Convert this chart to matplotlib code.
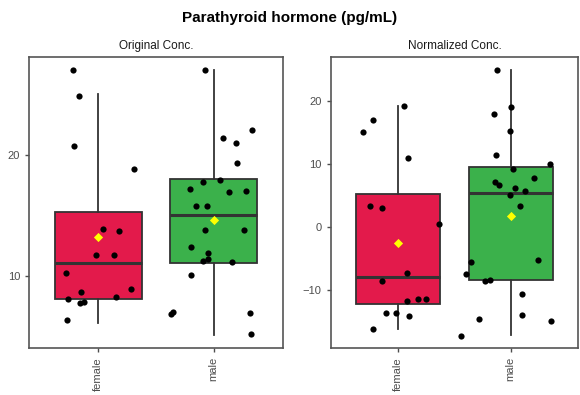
import matplotlib
matplotlib.use("Agg")
import matplotlib.pyplot as plt

plt.rcParams['font.family'] = ['Liberation Sans', 'DejaVu Sans']

groups = ["female", "male"]
fill_colors = ["#E31A4B", "#3BB14B"]

# Original concentration: box stats (whisker low, q1, median, q3, whisker high), mean, jittered points
orig_stats = {
    "female": [6.05, 8.04, 11.02, 15.25, 25.03],
    "male": [5.09, 11.05, 15.05, 18.0, 27.0],
}
orig_mean = {"female": 13.15, "male": 14.6}
orig_female_x = [0.78, 0.83, 0.79, 1.31, 1.04, 1.18, 0.98, 1.14, 0.72, 0.85, 1.28, 1.15,
                 0.74, 0.84, 0.88, 0.73]
orig_female_y = [26.98, 24.86, 20.69, 18.78, 13.84, 13.68, 11.66, 11.71, 10.22, 8.62, 8.90, 8.24,
                 8.04, 7.74, 7.82, 6.33]
orig_male_x = [1.92, 2.33, 2.08, 2.19, 2.20, 2.05, 1.91, 1.79, 2.13, 2.28,
               1.85, 1.94, 1.92, 2.26, 1.80, 1.95, 1.95, 1.91, 2.16, 1.80,
               1.63, 1.65, 2.31, 2.32]
orig_male_y = [27.04, 22.05, 21.35, 20.97, 19.31, 17.93, 17.71, 17.13, 16.91, 17.02,
               15.72, 15.72, 13.73, 13.79, 12.38, 11.88, 11.38, 11.24, 11.08, 10.03,
               6.83, 6.99, 6.88, 5.14]

# Normalized concentration
norm_stats = {
    "female": [-16.2, -12.32, -8.08, 5.14, 19.2],
    "male": [-17.3, -8.45, 5.30, 9.44, 24.9],
}
norm_mean = {"female": -2.56, "male": 1.74}
norm_female_x = [0.69, 0.78, 1.05, 1.09, 0.75, 0.86, 1.36, 1.08, 0.86, 1.08, 1.18, 1.25,
                 0.89, 0.98, 1.10, 0.78]
norm_female_y = [15.01, 16.92, 19.25, 10.87, 3.23, 3.01, 0.46, -7.44, -8.71, -11.85, -11.53, -11.53,
                 -13.81, -13.81, -14.28, -16.2]
norm_male_x = [1.88, 1.85, 2.00, 1.99, 1.87, 2.35, 2.02, 2.21, 1.86, 1.90, 2.04, 2.13, 1.99,
               2.08, 1.65, 2.24, 1.60, 1.77, 1.82, 2.10, 1.72, 2.10, 2.36, 1.56]
norm_male_y = [24.94, 17.93, 19.04, 15.22, 11.45, 9.92, 9.22, 7.69, 7.05, 6.58, 6.10, 5.72, 5.08,
               3.33, -5.58, -5.27, -7.6, -8.66, -8.45, -10.78, -14.76, -14.03, -15.08, -17.37]


def draw_panel(ax, stats, means, pts, title, ylim, yticks):
    bxp_stats = []
    for g in groups:
        lo, q1, med, q3, hi = stats[g]
        bxp_stats.append(dict(whislo=lo, q1=q1, med=med, q3=q3, whishi=hi, fliers=[], label=g))
    bp = ax.bxp(bxp_stats, positions=[1, 2], widths=0.75, patch_artist=True,
                showcaps=False, showfliers=False,
                boxprops=dict(edgecolor="#333333", linewidth=1.3),
                medianprops=dict(color="#333333", linewidth=2.2),
                whiskerprops=dict(color="#333333", linewidth=1.3), zorder=2)
    for patch, c in zip(bp["boxes"], fill_colors):
        patch.set_facecolor(c)

    for xs, ys in pts:
        ax.scatter(xs, ys, s=20, color="black", zorder=3, linewidths=0)
    ax.scatter([1, 2], [means[g] for g in groups], marker="D", s=22,
               color="#FFFF00", zorder=4, linewidths=0)

    ax.set_xlim(0.4, 2.6)
    ax.set_ylim(*ylim)
    ax.set_yticks(yticks)
    ax.set_xticks([1, 2])
    ax.set_xticklabels(groups, rotation=90)
    ax.tick_params(colors="#4D4D4D", labelsize=8, length=3, width=1)
    for sp in ax.spines.values():
        sp.set_color("#555555")
        sp.set_linewidth(1.2)
    ax.set_title(title, fontsize=8.5, color="#1a1a1a", pad=6)


fig = plt.figure(figsize=(5.8, 3.95), dpi=100)
ax1 = fig.add_axes([0.050, 0.119, 0.438, 0.737])
ax2 = fig.add_axes([0.570, 0.119, 0.427, 0.737])

draw_panel(ax1, orig_stats, orig_mean,
           [(orig_female_x, orig_female_y), (orig_male_x, orig_male_y)],
           "Original Conc.", (4.0, 28.1), [10, 20])
draw_panel(ax2, norm_stats, norm_mean,
           [(norm_female_x, norm_female_y), (norm_male_x, norm_male_y)],
           "Normalized Conc.", (-19.3, 27.0), [-10, 0, 10, 20])

fig.text(0.5, 0.954, "Parathyroid hormone (pg/mL)", ha="center", va="center",
         fontsize=11, fontweight="bold")

fig.savefig("out.png", dpi=100)
